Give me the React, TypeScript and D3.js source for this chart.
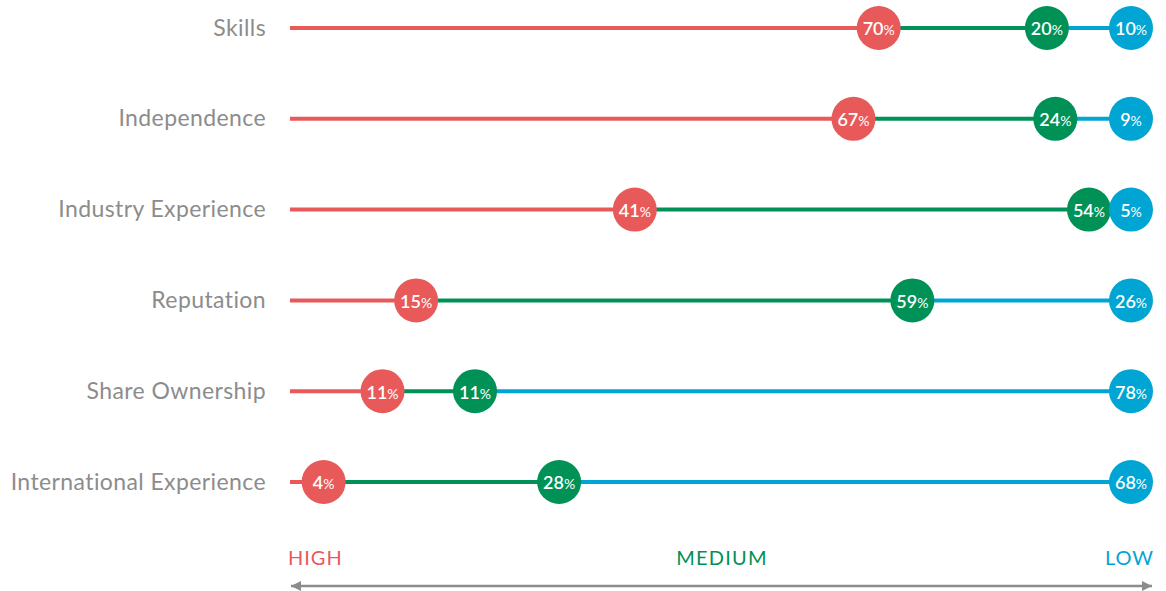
import React from "react";
import * as d3 from "d3";

const categories = ["Skills", "Independence", "Industry Experience", "Reputation", "Share Ownership", "International Experience"];
const highValues = [70, 67, 41, 15, 11, 4];
const mediumValues = [20, 24, 54, 59, 11, 28];
const lowValues = [10, 9, 5, 26, 78, 68];
const scaleLabels = ["HIGH", "MEDIUM", "LOW"];

const RED = "#E85A5A";
const GREEN = "#009157";
const BLUE = "#00A5D3";
const GRAY = "#8C8C8C";

export default function App() {
  const width = 1166;
  const height = 591;
  const x = d3.scaleLinear().domain([0, 100]).range([290, 1131]);
  const y = d3.scalePoint<string>().domain(categories).range([28, 482]);
  const r = 22;
  const font = "Lato, 'Open Sans', sans-serif";

  const rows = categories.map((c, i) => {
    const h = highValues[i];
    const m = mediumValues[i];
    const l = lowValues[i];
    return {
      c,
      cy: y(c) as number,
      pts: [
        { v: h, cum: h, color: RED },
        { v: m, cum: h + m, color: GREEN },
        { v: l, cum: h + m + l, color: BLUE },
      ],
    };
  });

  return (
    <svg width={width} height={height} style={{ position: "absolute", left: 0, top: 0, background: "#fff" }}>
      <defs>
        <marker id="ah" viewBox="0 0 10 10" refX="10" refY="5" markerWidth="6" markerHeight="4" markerUnits="strokeWidth" orient="auto-start-reverse">
          <path d="M0,0 L10,5 L0,10 z" fill={GRAY} />
        </marker>
      </defs>
      {rows.map((row) => {
        let prev = 0;
        return (
          <g key={row.c}>
            <text x={266} y={row.cy} dy="0.33em" textAnchor="end" fill={GRAY} fontFamily={font} fontSize={23} letterSpacing={0.4}>
              {row.c}
            </text>
            {row.pts.map((p, j) => {
              const x0 = x(prev);
              const x1 = x(p.cum);
              prev = p.cum;
              return <line key={j} x1={x0} x2={x1} y1={row.cy} y2={row.cy} stroke={p.color} strokeWidth={4} />;
            })}
            {row.pts.map((p, j) => (
              <g key={"c" + j} transform={`translate(${x(p.cum)},${row.cy})`}>
                <circle r={r} fill={p.color} />
                <text textAnchor="middle" dy="0.35em" y={1} fill="#fff" fontFamily={font} fontWeight={600} fontSize={18}>
                  {p.v}
                  <tspan fontSize={14} fontWeight={400}>%</tspan>
                </text>
              </g>
            ))}
          </g>
        );
      })}
      <text x={288} y={565} fill={RED} fontFamily={font} fontSize={20} letterSpacing={1}>{scaleLabels[0]}</text>
      <text x={722} y={565} textAnchor="middle" fill={GREEN} fontFamily={font} fontSize={20} letterSpacing={1.2}>{scaleLabels[1]}</text>
      <text x={1154} y={565} textAnchor="end" fill={BLUE} fontFamily={font} fontSize={20} letterSpacing={1}>{scaleLabels[2]}</text>
      <line x1={291} x2={1152} y1={586} y2={586} stroke={GRAY} strokeWidth={2.5} markerStart="url(#ah)" markerEnd="url(#ah)" />
    </svg>
  );
}
